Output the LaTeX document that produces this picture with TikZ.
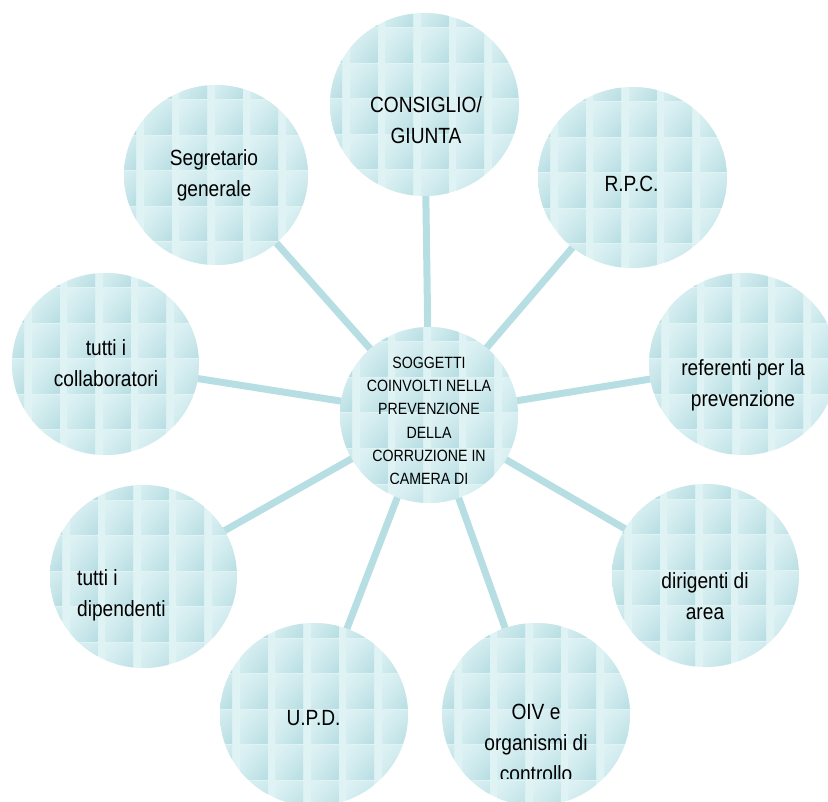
\documentclass[tikz,border=0pt]{standalone}
\usepackage{fontspec}
\setmainfont{Liberation Sans}[FakeStretch=0.87]
\usetikzlibrary{shapes.geometric,shadings}
\pgfdeclarelayer{bg}
\pgfdeclarelayer{mid}
\pgfsetlayers{bg,mid,main}
\definecolor{tilelight}{HTML}{DFF2F4}
\definecolor{tilemid}{HTML}{D0EBEE}
\definecolor{tiledark}{HTML}{B6DDE2}
\definecolor{linecol}{HTML}{B7DEE3}
\newcommand\tiledisc[4]{%
\begin{scope}
\clip (#1,#2) ellipse [x radius=#3, y radius=#4];
\fill[tilelight] (#1-#3,#2-#4) rectangle (#1+#3,#2+#4);
\foreach \i in {-1,...,5}{\foreach \j in {-1,...,5}{
  \pgfmathsetmacro\tx{#1-#3+12+35.5*\i}
  \pgfmathsetmacro\ty{#2-#4+14+35.5*\j}
  \shade[upper left=tilelight, lower right=tiledark, upper right=tilemid, lower left=tilemid]
    (\tx+8,\ty+2) rectangle (\tx+35.5,\ty+35.5);
}}
\end{scope}}
\tikzset{
  disc/.style={ellipse, inner sep=0pt, draw=none},
  conn/.style={line width=7pt, draw=linecol},
  lbl/.style={align=center, text=black, inner sep=0pt, font=\fontsize{22}{31}\selectfont},
  ctrlbl/.style={align=center, text=black, inner sep=0pt, font=\fontsize{16.3}{23.3}\selectfont},
}
\begin{document}
\begin{tikzpicture}[x=1pt,y=-1pt]
\useasboundingbox (0,0) rectangle (828,802);
% circle nodes (positions)
\node[disc, minimum width=178pt, minimum height=176pt] (ctr) at (429,415) {};
\node[disc, minimum width=189pt, minimum height=183pt] (n1) at (424.5,104.5) {};
\node[disc, minimum width=189pt, minimum height=181pt] (n2) at (632.5,177.5) {};
\node[disc, minimum width=188pt, minimum height=182pt] (n3) at (743,364) {};
\node[disc, minimum width=187pt, minimum height=183pt] (n4) at (705.5,575.5) {};
\node[disc, minimum width=188pt, minimum height=183pt] (n5) at (536,714.5) {};
\node[disc, minimum width=188pt, minimum height=183pt] (n6) at (314,714.5) {};
\node[disc, minimum width=187pt, minimum height=183pt] (n7) at (143.5,576.5) {};
\node[disc, minimum width=187pt, minimum height=182pt] (n8) at (105.5,364) {};
\node[disc, minimum width=184pt, minimum height=180pt] (n9) at (216,175) {};
% tiled discs
\begin{pgfonlayer}{mid}
\tiledisc{429}{415}{89}{88}
\tiledisc{424.5}{104.5}{94.5}{91.5}
\tiledisc{632.5}{177.5}{94.5}{90.5}
\tiledisc{743}{364}{94}{91}
\tiledisc{705.5}{575.5}{93.5}{91.5}
\tiledisc{536}{714.5}{94}{91.5}
\tiledisc{314}{714.5}{94}{91.5}
\tiledisc{143.5}{576.5}{93.5}{91.5}
\tiledisc{105.5}{364}{93.5}{91}
\tiledisc{216}{175}{92}{90}
\end{pgfonlayer}
% connectors
\begin{pgfonlayer}{bg}
\foreach \n in {n1,n2,n3,n4,n5,n6,n7,n8,n9}{
  \draw[conn] (ctr.center) -- (\n.center);
}
\end{pgfonlayer}
% labels
\begin{scope}
\clip (330,320) rectangle (528,483);
\node[ctrlbl] (t0) at (429,421) {SOGGETTI\\COINVOLTI NELLA\\PREVENZIONE\\DELLA\\CORRUZIONE IN\\CAMERA DI};
\end{scope}
\node[lbl] (t1) at (426,120) {CONSIGLIO/\\GIUNTA};
\node[lbl] (t2) at (631.5,184) {R.P.C.};
\node[lbl] (t3) at (743,385) {referenti per la\\prevenzione};
\node[lbl] (t4) at (705,596) {dirigenti di\\area};
\begin{scope}
\clip (440,620) rectangle (632,778);
\node[lbl] (t5) at (536,743) {OIV e\\organismi di\\controllo};
\end{scope}
\node[lbl] (t6) at (313.5,718) {U.P.D.};
\node[lbl, align=left, anchor=west] (t7) at (77,595) {tutti i\\dipendenti};
\node[lbl] (t8) at (106,363) {tutti i\\collaboratori};
\node[lbl] (t9) at (214,175) {Segretario\\generale};
\end{tikzpicture}
\end{document}
